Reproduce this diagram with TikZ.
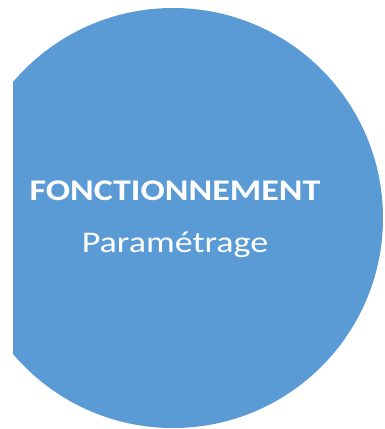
\documentclass[tikz,border=0pt]{standalone}
\usepackage{fontspec}
\setmainfont{Carlito}
\usetikzlibrary{positioning}
\definecolor{discblue}{HTML}{5B9BD5}
\newcommand{\widetext}[1]{\scalebox{1.2}[1]{#1}}
\tikzset{
  disc/.style = { circle, fill=discblue, minimum size=420pt, inner sep=0pt },
  lbl/.style  = { text=white, inner sep=0pt, anchor=base,
    font=\fontsize{30}{36}\selectfont },
  lblb/.style = { lbl, font=\fontsize{30}{36}\selectfont\bfseries }
}
\begin{document}
\begin{tikzpicture}[x=1pt,y=-1pt]
  \useasboundingbox (0,0) rectangle (385,429);
  \begin{scope}
    \clip (13,0) rectangle (385,429);
    \node[disc] (disc) at (173,218) {};
  \end{scope}
  \node[lblb] (title) at (175,200) {\widetext{FONCTIONNEMENT}};
  \node[lbl, below=52pt of title.base, anchor=base] (sub) {\widetext{Paramétrage}};
\end{tikzpicture}
\end{document}
